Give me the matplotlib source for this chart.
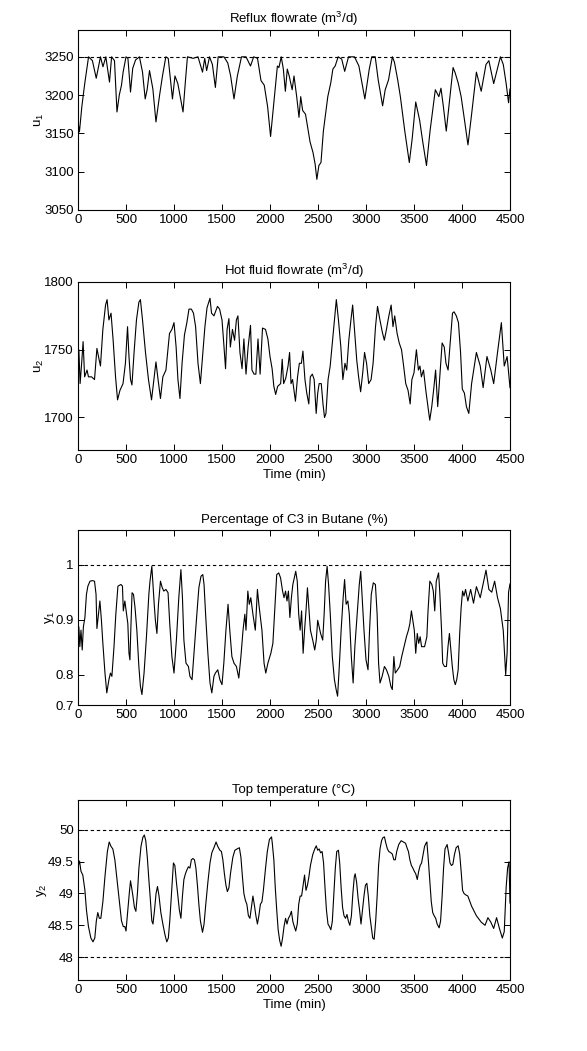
import matplotlib
matplotlib.use("Agg")
import matplotlib.pyplot as plt
from matplotlib import font_manager

# ---------------- data ----------------
t_u1 = [0, 15, 40, 70, 110, 150, 190, 234, 260, 290, 328, 350, 380, 406, 430, 453, 470, 500, 520, 547,
        570, 600, 640, 672, 700, 720, 745, 780, 812, 850, 880, 915, 940, 984, 1010, 1040, 1094, 1120, 1140, 1200,
        1250, 1297, 1320, 1340, 1370, 1400, 1431, 1460, 1520, 1560, 1590, 1625, 1660, 1703, 1750, 1797, 1830, 1870,
        1906, 1940, 1975, 2006, 2046, 2077, 2093, 2117, 2139, 2160, 2180, 2200, 2231, 2250, 2278, 2302, 2320, 2340,
        2370, 2417, 2448, 2470, 2488, 2509, 2531, 2556, 2602, 2633, 2655, 2679, 2710, 2747, 2778, 2818, 2880, 2926,
        2988, 3034, 3060, 3096, 3127, 3173, 3200, 3235, 3275, 3296, 3330, 3358, 3404, 3451, 3481, 3518, 3559, 3590,
        3630, 3667, 3722, 3759, 3781, 3806, 3836, 3867, 3907, 3929, 3960, 3991, 4022, 4062, 4100, 4150, 4200, 4250,
        4280, 4330, 4370, 4400, 4430, 4460, 4485, 4500]
u1 = [3165, 3152, 3185, 3215, 3250, 3245, 3222, 3250, 3237, 3250, 3217, 3250, 3245, 3178, 3200, 3213, 3230, 3250, 3248, 3204,
      3235, 3246, 3250, 3230, 3195, 3207, 3232, 3208, 3165, 3200, 3225, 3250, 3248, 3195, 3225, 3215, 3178, 3220, 3250, 3248,
      3250, 3230, 3248, 3232, 3250, 3240, 3210, 3250, 3250, 3242, 3225, 3195, 3225, 3250, 3250, 3238, 3250, 3248,
      3219, 3213, 3185, 3146, 3198, 3238, 3236, 3250, 3234, 3205, 3234, 3225, 3207, 3225, 3198, 3171, 3198, 3180,
      3175, 3139, 3125, 3110, 3090, 3108, 3112, 3153, 3198, 3216, 3234, 3238, 3250, 3247, 3231, 3250, 3250, 3238,
      3195, 3234, 3250, 3250, 3220, 3186, 3207, 3220, 3250, 3243, 3220, 3198, 3153, 3112, 3143, 3191, 3167, 3140,
      3108, 3153, 3207, 3198, 3209, 3185, 3153, 3189, 3236, 3229, 3216, 3198, 3171, 3135, 3175, 3230, 3205, 3240,
      3245, 3215, 3235, 3250, 3240, 3215, 3190, 3208]

t_u2 = [0, 9, 22, 41, 53, 69, 94, 109, 141, 172, 197, 219, 234, 259, 287, 303, 322, 344, 366, 391, 412, 437, 469, 494,
        516, 531, 547, 562, 584, 609, 634, 650, 672, 703, 734, 766, 791, 812, 834, 859, 884, 916, 953, 978, 1000, 1022,
        1041, 1062, 1084, 1109, 1134, 1156, 1181, 1203, 1225, 1250, 1275, 1297, 1322, 1344, 1375, 1391, 1416, 1453,
        1475, 1500, 1516, 1537, 1553, 1572, 1587, 1609, 1631, 1650, 1666, 1687, 1709, 1728, 1750, 1772, 1797, 1812,
        1834, 1853, 1875, 1897, 1922, 1953, 1978, 2000, 2022, 2040, 2059, 2080, 2111, 2127, 2142, 2164, 2188, 2204,
        2219, 2235, 2250, 2265, 2287, 2306, 2327, 2343, 2364, 2383, 2404, 2420, 2441, 2460, 2481, 2497, 2512, 2534,
        2552, 2568, 2583, 2605, 2627, 2645, 2667, 2691, 2713, 2738, 2759, 2781, 2799, 2821, 2843, 2861, 2883, 2904,
        2923, 2944, 2966, 2985, 3006, 3028, 3053, 3074, 3099, 3120, 3145, 3170, 3191, 3213, 3238, 3262, 3281, 3299,
        3324, 3346, 3370, 3392, 3414, 3438, 3460, 3478, 3500, 3525, 3546, 3562, 3577, 3599, 3623, 3645, 3664, 3685,
        3707, 3725, 3747, 3769, 3793, 3815, 3833, 3855, 3880, 3901, 3917, 3941, 3963, 3985, 4003, 4025, 4046, 4071,
        4100, 4150, 4190, 4220, 4260, 4300, 4330, 4370, 4410, 4440, 4470, 4500]
u2 = [1743, 1750, 1725, 1743, 1756, 1730, 1735, 1730, 1730, 1728, 1751, 1743, 1738, 1765, 1783, 1787, 1772, 1777, 1757,
      1730, 1713, 1720, 1725, 1740, 1767, 1745, 1728, 1724, 1748, 1772, 1785, 1787, 1772, 1748, 1728, 1713, 1728, 1741,
      1728, 1714, 1730, 1735, 1762, 1765, 1770, 1752, 1728, 1714, 1740, 1761, 1770, 1780, 1780, 1777, 1767, 1740, 1725,
      1745, 1767, 1781, 1788, 1777, 1775, 1782, 1780, 1772, 1757, 1736, 1765, 1773, 1752, 1765, 1757, 1772, 1775, 1748,
      1736, 1758, 1732, 1752, 1768, 1735, 1732, 1732, 1758, 1732, 1766, 1765, 1758, 1745, 1736, 1723, 1717, 1723, 1725,
      1743, 1725, 1729, 1738, 1748, 1725, 1728, 1720, 1712, 1730, 1740, 1740, 1749, 1728, 1718, 1710, 1730, 1732, 1728,
      1703, 1718, 1725, 1725, 1710, 1700, 1703, 1728, 1738, 1752, 1770, 1787, 1772, 1752, 1728, 1740, 1735, 1757, 1772,
      1783, 1762, 1742, 1730, 1719, 1733, 1748, 1740, 1725, 1728, 1740, 1767, 1782, 1772, 1763, 1757, 1765, 1775, 1783,
      1767, 1775, 1762, 1755, 1750, 1738, 1725, 1720, 1710, 1728, 1733, 1750, 1735, 1738, 1730, 1735, 1720, 1708, 1698,
      1708, 1722, 1735, 1708, 1730, 1755, 1752, 1740, 1735, 1758, 1777, 1778, 1775, 1770, 1748, 1721, 1718, 1708, 1703,
      1725, 1748, 1738, 1722, 1745, 1735, 1725, 1748, 1770, 1738, 1745, 1722]

t_y1 = [0, 9, 19, 31, 44, 56, 72, 88, 103, 125, 150, 172, 188, 197, 213, 228, 244, 259, 281, 300, 322, 338, 353, 375,
        394, 416, 447, 463, 472, 488, 519, 531, 541, 550, 563, 578, 594, 613, 634, 650, 666, 688, 713, 738, 750, 769,
        781, 794, 806, 822, 838, 859, 878, 894, 916, 938, 956, 978, 1000, 1025, 1050, 1072, 1088, 1103, 1125, 1150,
        1166, 1188, 1213, 1238, 1259, 1281, 1300, 1313, 1331, 1353, 1375, 1394, 1416, 1431, 1456, 1478, 1500, 1519,
        1541, 1563, 1581, 1603, 1625, 1650, 1675, 1697, 1719, 1738, 1750, 1769, 1784, 1800, 1822, 1847, 1869, 1884,
        1900, 1916, 1938, 1956, 1978, 2009, 2030, 2049, 2070, 2091, 2110, 2131, 2146, 2162, 2177, 2192, 2207, 2223,
        2238, 2253, 2268, 2284, 2299, 2314, 2329, 2345, 2360, 2375, 2390, 2405, 2421, 2445, 2466, 2482, 2497, 2512,
        2527, 2549, 2564, 2579, 2595, 2610, 2628, 2649, 2671, 2689, 2704, 2720, 2741, 2762, 2777, 2793, 2811, 2826,
        2847, 2866, 2884, 2908, 2930, 2945, 2960, 2979, 3000, 3021, 3037, 3055, 3076, 3098, 3116, 3131, 3146, 3168,
        3192, 3213, 3238, 3259, 3274, 3290, 3305, 3329, 3351, 3372, 3396, 3421, 3442, 3457, 3473, 3488, 3503, 3518,
        3534, 3549, 3564, 3579, 3610, 3634, 3646, 3665, 3686, 3701, 3716, 3732, 3756, 3768, 3787, 3799, 3817, 3838,
        3854, 3869, 3884, 3899, 3915, 3930, 3945, 3960, 3976, 3991, 4006, 4021, 4037, 4061, 4090, 4120, 4150, 4190,
        4220, 4250, 4280, 4310, 4340, 4370, 4400, 4430, 4455, 4470, 4485, 4500]
y1 = [0.863, 0.887, 0.851, 0.881, 0.845, 0.887, 0.904, 0.946, 0.961, 0.970, 0.971, 0.970, 0.946, 0.884, 0.910, 0.934,
      0.899, 0.857, 0.803, 0.767, 0.791, 0.803, 0.797, 0.851, 0.910, 0.961, 0.964, 0.961, 0.916, 0.934, 0.893, 0.839,
      0.827, 0.881, 0.949, 0.946, 0.922, 0.881, 0.815, 0.779, 0.764, 0.803, 0.869, 0.946, 0.970, 0.997, 0.964, 0.928,
      0.899, 0.875, 0.928, 0.970, 0.958, 0.952, 0.955, 0.949, 0.892, 0.833, 0.803, 0.863, 0.940, 0.991, 0.940, 0.863,
      0.821, 0.815, 0.797, 0.791, 0.851, 0.910, 0.958, 0.979, 0.982, 0.964, 0.904, 0.839, 0.785, 0.767, 0.797, 0.803,
      0.809, 0.791, 0.782, 0.821, 0.881, 0.928, 0.881, 0.833, 0.821, 0.815, 0.794, 0.833, 0.881, 0.910, 0.881, 0.952,
      0.928, 0.940, 0.910, 0.881, 0.955, 0.928, 0.904, 0.881, 0.821, 0.803, 0.821, 0.839, 0.857, 0.916, 0.982, 0.985,
      0.976, 0.952, 0.940, 0.952, 0.934, 0.952, 0.904, 0.940, 0.964, 0.976, 0.988, 0.970, 0.910, 0.881, 0.916, 0.839,
      0.881, 0.916, 0.958, 0.922, 0.881, 0.863, 0.845, 0.863, 0.899, 0.887, 0.875, 0.863, 0.910, 0.970, 0.997, 0.964,
      0.910, 0.833, 0.791, 0.773, 0.761, 0.809, 0.881, 0.940, 0.973, 0.928, 0.934, 0.910, 0.833, 0.785, 0.851, 0.910,
      0.964, 0.988, 0.940, 0.881, 0.827, 0.809, 0.881, 0.946, 0.967, 0.964, 0.910, 0.821, 0.785, 0.797, 0.815, 0.809,
      0.797, 0.779, 0.773, 0.833, 0.803, 0.809, 0.815, 0.833, 0.851, 0.869, 0.881, 0.893, 0.916, 0.899, 0.881, 0.839,
      0.875, 0.857, 0.869, 0.851, 0.851, 0.869, 0.916, 0.970, 0.964, 0.952, 0.916, 0.970, 0.985, 0.952, 0.881, 0.821,
      0.815, 0.815, 0.851, 0.875, 0.845, 0.815, 0.791, 0.782, 0.791, 0.809, 0.875, 0.922, 0.952, 0.943, 0.955, 0.934,
      0.955, 0.930, 0.960, 0.940, 0.965, 0.990, 0.955, 0.950, 0.970, 0.940, 0.920, 0.880, 0.800, 0.840, 0.950, 0.965]

t_y2 = [0, 16, 31, 50, 72, 88, 109, 134, 156, 175, 191, 206, 222, 238, 259, 281, 306, 325, 344, 363, 384, 406, 431,
        453, 472, 488, 500, 519, 534, 547, 559, 572, 588, 603, 619, 634, 656, 675, 691, 706, 722, 738, 753, 769, 781,
        797, 813, 828, 844, 863, 884, 906, 925, 941, 956, 978, 994, 1009, 1025, 1041, 1056, 1072, 1088, 1103, 1119,
        1134, 1150, 1166, 1181, 1197, 1213, 1228, 1244, 1259, 1275, 1297, 1313, 1331, 1353, 1375, 1394, 1416, 1438,
        1456, 1478, 1494, 1509, 1525, 1541, 1556, 1572, 1588, 1613, 1634, 1656, 1681, 1697, 1713, 1728, 1744, 1759,
        1775, 1791, 1806, 1822, 1838, 1853, 1869, 1884, 1900, 1916, 1931, 1953, 1972, 1994, 2016, 2024, 2040, 2055,
        2070, 2085, 2101, 2116, 2131, 2146, 2162, 2177, 2192, 2207, 2223, 2238, 2253, 2268, 2284, 2299, 2314, 2329,
        2345, 2360, 2375, 2390, 2405, 2421, 2445, 2466, 2482, 2497, 2512, 2527, 2543, 2558, 2573, 2588, 2604, 2619,
        2634, 2649, 2665, 2680, 2695, 2713, 2726, 2741, 2756, 2771, 2787, 2802, 2817, 2832, 2848, 2863, 2878, 2887,
        2902, 2918, 2933, 2948, 2963, 2979, 2994, 3009, 3024, 3040, 3055, 3070, 3085, 3101, 3116, 3131, 3146, 3162,
        3177, 3192, 3207, 3223, 3238, 3259, 3274, 3290, 3305, 3320, 3341, 3366, 3390, 3412, 3427, 3442, 3457, 3473,
        3488, 3503, 3518, 3534, 3549, 3564, 3579, 3595, 3610, 3625, 3634, 3649, 3665, 3680, 3695, 3710, 3726, 3741,
        3762, 3777, 3793, 3808, 3823, 3845, 3860, 3875, 3890, 3905, 3921, 3939, 3960, 3976, 3991, 4006, 4021, 4037,
        4061, 4100, 4150, 4200, 4240, 4270, 4300, 4330, 4360, 4390, 4420, 4440, 4460, 4475, 4490, 4500]
y2 = [49.42, 49.51, 49.35, 49.29, 49.05, 48.74, 48.48, 48.30, 48.24, 48.30, 48.57, 48.70, 48.61, 48.61, 48.87, 49.27,
      49.66, 49.81, 49.74, 49.70, 49.53, 49.22, 48.87, 48.57, 48.48, 48.48, 48.41, 48.74, 49.00, 49.20, 49.09, 48.96,
      48.78, 48.72, 49.00, 49.39, 49.74, 49.88, 49.92, 49.83, 49.57, 49.22, 48.92, 48.57, 48.52, 48.74, 49.00, 49.11,
      48.96, 48.70, 48.52, 48.35, 48.24, 48.30, 48.57, 49.09, 49.48, 49.44, 49.18, 48.96, 48.74, 48.61, 48.96, 49.22,
      49.31, 49.37, 49.42, 49.40, 49.53, 49.55, 49.53, 49.40, 49.13, 48.83, 48.57, 48.39, 48.52, 48.83, 49.18, 49.48,
      49.64, 49.72, 49.81, 49.74, 49.68, 49.66, 49.53, 49.31, 49.13, 49.03, 49.09, 49.31, 49.57, 49.68, 49.70, 49.72,
      49.57, 49.26, 49.00, 48.89, 48.83, 48.65, 48.61, 48.78, 48.96, 48.81, 48.65, 48.52, 48.65, 48.83, 48.87, 49.05,
      49.39, 49.66, 49.85, 49.89, 49.79, 49.53, 49.09, 48.74, 48.43, 48.26, 48.17, 48.30, 48.48, 48.61, 48.52, 48.61,
      48.65, 48.72, 48.56, 48.48, 48.41, 48.52, 48.83, 48.96, 48.96, 49.13, 49.29, 49.05, 49.13, 49.26, 49.44, 49.61,
      49.70, 49.75, 49.68, 49.70, 49.64, 49.66, 49.48, 49.09, 48.74, 48.52, 48.48, 48.43, 48.56, 49.00, 49.39, 49.66,
      49.68, 49.48, 49.09, 48.78, 48.65, 48.61, 48.67, 48.56, 48.50, 48.65, 49.00, 49.26, 49.31, 49.18, 48.92, 48.74,
      48.52, 48.74, 48.96, 49.13, 49.16, 48.96, 48.65, 48.48, 48.30, 48.28, 48.57, 48.96, 49.44, 49.70, 49.83, 49.88,
      49.89, 49.79, 49.70, 49.66, 49.64, 49.62, 49.53, 49.53, 49.66, 49.77, 49.83, 49.81, 49.79, 49.72, 49.66, 49.53,
      49.44, 49.40, 49.35, 49.31, 49.22, 49.35, 49.44, 49.48, 49.61, 49.74, 49.79, 49.81, 49.53, 49.18, 48.87, 48.70,
      48.65, 48.61, 48.52, 48.46, 48.57, 48.96, 49.40, 49.70, 49.77, 49.64, 49.48, 49.44, 49.46, 49.61, 49.72, 49.75,
      49.62, 49.35, 49.05, 49.00, 48.98, 48.96, 48.80, 48.65, 48.55, 48.50, 48.62, 48.55, 48.45, 48.62, 48.45, 48.30,
      48.40, 49.10, 49.40, 49.50, 48.85]

titles = ["Reflux flowrate (m$^3$/d)", "Hot fluid flowrate (m$^3$/d)",
          "Percentage of C3 in Butane (%)", "Top temperature (\u00b0C)"]
ylabels = ["u$_1$", "u$_2$", "y$_1$", "y$_2$"]
xticks = [0, 500, 1000, 1500, 2000, 2500, 3000, 3500, 4000, 4500]
yticks_u1 = [3050, 3100, 3150, 3200, 3250]
yticks_u2 = [1700, 1750, 1800]
yticks_y1 = [0.8, 0.9, 1.0]
yticks_y2 = [48, 48.5, 49, 49.5, 50]
limit_u1 = [3250]
limit_y1 = [1.0]
limits_y2 = [48, 50]

# ---------------- style ----------------
names = {f.name for f in font_manager.fontManager.ttflist}
fam = [f for f in ["Liberation Sans Narrow", "Liberation Sans", "DejaVu Sans"] if f in names]
plt.rcParams["font.family"] = fam
plt.rcParams["mathtext.fontset"] = "custom"
plt.rcParams["mathtext.rm"] = fam[0]
plt.rcParams["mathtext.it"] = fam[0]
FS = 9.5
plt.rcParams["font.size"] = FS

W, H = 587, 1051
fig = plt.figure(figsize=(W / 100, H / 100), dpi=100)

left, right = 78, 510
boxes = [(30, 210), (282, 450), (530, 705), (800, 980)]
axes = []
for (top, bot) in boxes:
    ax = fig.add_axes([left / W, 1 - bot / H, (right - left) / W, (bot - top) / H])
    axes.append(ax)

series = [(t_u1, u1), (t_u2, u2), (t_y1, y1), (t_y2, y2)]
ylims = [(3050, 3285), (1676, 1800), (0.745, 1.063), (47.64, 50.47)]
ytick_sets = [yticks_u1, yticks_u2, yticks_y1, yticks_y2]
ytick_labels = [["3050", "3100", "3150", "3200", "3250"], ["1700", "1750", "1800"],
                ["0.8", "0.9", "1"], ["48", "48.5", "49", "49.5", "50"]]
limit_sets = [limit_u1, [], limit_y1, limits_y2]

for i, ax in enumerate(axes):
    t, v = series[i]
    ax.plot(t, v, color="black", lw=0.8)
    for L in limit_sets[i]:
        ax.axhline(L, color="black", lw=0.8, ls=(0, (3, 2.5)))
    ax.set_xlim(0, 4500)
    ax.set_ylim(*ylims[i])
    ax.set_xticks(xticks)
    ax.set_yticks(ytick_sets[i])
    ax.set_yticklabels(ytick_labels[i])
    ax.set_title(titles[i], fontsize=FS, pad=5)
    ax.set_ylabel(ylabels[i], fontsize=FS, labelpad=-1)
    ax.tick_params(direction="in", length=4, width=0.7, top=True, right=True, labelsize=FS, pad=3)
    for s in ax.spines.values():
        s.set_linewidth(0.8)

# the reference labels the bottom edge of the y1 axis "0.7"
axes[2].set_yticks(yticks_y1 + [0.745])
axes[2].set_yticklabels(["0.8", "0.9", "1", "0.7"])

axes[1].set_xlabel("Time (min)", fontsize=FS, labelpad=2)
axes[3].set_xlabel("Time (min)", fontsize=FS, labelpad=2)

fig.savefig("out.png", dpi=100)
